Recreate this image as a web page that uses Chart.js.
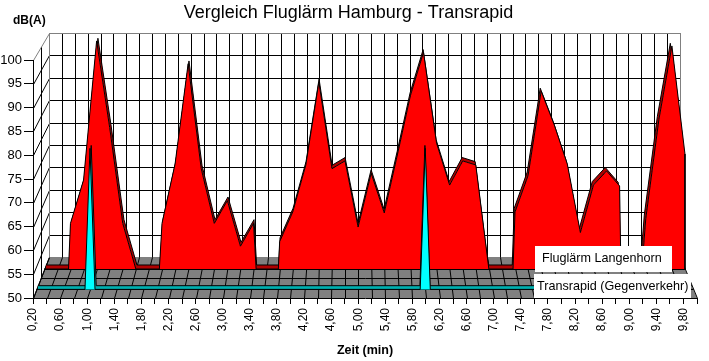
<!DOCTYPE html>
<html>
<head>
<meta charset="utf-8">
<title>Vergleich Fluglärm Hamburg - Transrapid</title>
<script src="https://cdn.jsdelivr.net/npm/chart.js@4"></script>
<style>
    body { margin: 0; background: #fff; }
    #box { width: 709px; height: 361px; }
</style>
</head>
<body>
<div id="box"><canvas id="chart"></canvas></div>
<script>
const chartTitle = 'Vergleich Fluglärm Hamburg - Transrapid';
const xTitle = 'Zeit (min)';
const yUnit = 'dB(A)';
const redLabel = 'Fluglärm Langenhorn';
const cyanLabel = 'Transrapid (Gegenverkehr)';

const xTickLabels = ['0,20', '0,60', '1,00', '1,40', '1,80', '2,20', '2,60', '3,00', '3,40', '3,80', '4,20', '4,60', '5,00',
    '5,40', '5,80', '6,20', '6,60', '7,00', '7,40', '7,80', '8,20', '8,60', '9,00', '9,40', '9,80'];

// red series (time in min, level in dB(A))
const redTimes = [0.2, 0.57, 0.6, 0.8, 1.0, 1.2, 1.4, 1.6, 1.96, 2.0, 2.2, 2.4, 2.6, 2.8, 3.0, 3.2, 3.4, 3.44, 3.78, 3.8,
    4.0, 4.2, 4.4, 4.6, 4.8, 5.0, 5.2, 5.4, 5.6, 5.8, 6.0, 6.2, 6.4, 6.6, 6.8, 7.0, 7.37, 7.4, 7.6, 7.8, 8.0, 8.2,
    8.4, 8.6, 8.8, 9.0, 9.02, 9.34, 9.4, 9.6, 9.8, 10.0, 10.0];
const redDb = [50, 50, 60, 69.5, 100, 81, 60, 50, 50, 60, 73, 95, 72, 60, 65, 55, 60, 50, 50, 56,
    62.5, 72.8, 91, 72, 73.7, 59.2, 71, 62.3, 75, 88, 97.5, 77.6, 68.4, 73.7, 72.8, 50, 50, 62.5, 70.5, 89, 81.6, 73,
    58, 68.4, 71.5, 68.2, 50, 50, 61, 82.7, 98.9, 75.2, 50];

// cyan series
const cyanTimes = [0.2, 0.925, 1.0, 1.075, 5.925, 6.0, 6.075, 10.0];
const cyanDb = [50, 50, 80, 50, 50, 80, 50, 50];

const depths = { wall: 1, redBack: 0.805, red: 0.707, cyanBack: 0.3, cyan: 0.21 };
const floorDepths = [0.22, 0.49, 0.707];
const sideDepths = [0.49];

function pairs(times, values) {
    return times.map((t, i) => ({ x: t, y: values[i] }));
}

// one hidden x/y scale pair per depth plane
const scales = {
    x: {
        type: 'linear', min: 0.2, max: 10,
        afterFit: (s) => { s.height = 63; },
        grid: { drawOnChartArea: false, tickLength: 6, color: '#000' },
        border: { color: '#000' },
        ticks: {
            stepSize: 0.2, autoSkip: false, minRotation: 90, maxRotation: 90, padding: 4, color: '#000',
            font: { size: 12 },
            callback: (v, i) => (i % 2 ? '' : xTickLabels[i / 2])
        },
        title: { display: true, text: xTitle, color: '#000', font: { size: 12.5, weight: 'bold' }, padding: { top: 0, bottom: 3 } }
    },
    y: {
        type: 'linear', min: 50, max: 100,
        afterFit: (s) => { s.width = 33; },
        grid: { drawOnChartArea: false, tickLength: 9, color: '#000' },
        border: { color: '#000' },
        ticks: { stepSize: 5, padding: 2, color: '#000', font: { size: 13 } }
    }
};
Object.keys(depths).forEach((name) => {
    scales['x_' + name] = { type: 'linear', axis: 'x', position: 'bottom', display: false, min: 0.2, max: 10 };
    scales['y_' + name] = { type: 'linear', axis: 'y', position: 'left', display: false, min: 50, max: 100 };
});

function placeScale(chart, name, d) {
    const front = { left: 33, right: 697, top: 60, bottom: 298 };
    const back = { left: 49, right: 680, top: 33, bottom: 257 };
    const mix = (k) => front[k] + (back[k] - front[k]) * d;
    const sx = chart.scales[name === '' ? 'x' : 'x_' + name];
    const sy = chart.scales[name === '' ? 'y' : 'y_' + name];
    sx.left = mix('left'); sx.right = mix('right'); sx.width = sx.right - sx.left;
    sy.top = mix('top'); sy.bottom = mix('bottom'); sy.height = sy.bottom - sy.top;
    sx.configure();
    sy.configure();
}

function line(ctx, x1, y1, x2, y2, color) {
    ctx.strokeStyle = color;
    ctx.lineWidth = 1;
    ctx.beginPath();
    ctx.moveTo(Math.round(x1) + 0.5, Math.round(y1) + 0.5);
    ctx.lineTo(Math.round(x2) + 0.5, Math.round(y2) + 0.5);
    ctx.stroke();
}

const room3d = {
    id: 'room3d',
    afterLayout(chart) {
        placeScale(chart, '', 0);
        Object.keys(depths).forEach((name) => placeScale(chart, name, depths[name]));
    },
    beforeDraw(chart) {
        const ctx = chart.ctx;
        const fx = chart.scales.x, fy = chart.scales.y;
        const bx = chart.scales.x_wall, by = chart.scales.y_wall;
        const xValues = fx.ticks.map((t) => t.value);
        const yValues = fy.ticks.map((t) => t.value);
        ctx.save();

        // floor
        ctx.fillStyle = '#808080';
        ctx.beginPath();
        ctx.moveTo(fx.left, fy.bottom);
        ctx.lineTo(fx.right, fy.bottom);
        ctx.lineTo(bx.right, by.bottom);
        ctx.lineTo(bx.left, by.bottom);
        ctx.closePath();
        ctx.fill();

        // back wall grid
        xValues.forEach((v) => {
            line(ctx, bx.getPixelForValue(v), by.top, bx.getPixelForValue(v), by.bottom, '#000');
            line(ctx, fx.getPixelForValue(v), fy.bottom, bx.getPixelForValue(v), by.bottom, '#000');
        });
        yValues.forEach((v) => {
            if (v > 50 && v < 100) {
                line(ctx, bx.left, by.getPixelForValue(v), bx.right, by.getPixelForValue(v), '#000');
            }
            line(ctx, fx.left, fy.getPixelForValue(v), bx.left, by.getPixelForValue(v), v === 100 ? '#808080' : '#000');
        });

        // floor rows
        floorDepths.forEach((d) => {
            const y = fy.bottom + (by.bottom - fy.bottom) * d;
            line(ctx, fx.left + (bx.left - fx.left) * d, y, fx.right + (bx.right - fx.right) * d, y, '#000');
        });

        // side wall post
        sideDepths.forEach((d) => {
            const x = fx.left + (bx.left - fx.left) * d;
            line(ctx, x, fy.top + (by.top - fy.top) * d, x, fy.bottom + (by.bottom - fy.bottom) * d, '#000');
        });

        // wall edges
        line(ctx, bx.left, by.top, bx.right, by.top, '#808080');
        line(ctx, bx.left, by.top, bx.left, by.bottom, '#808080');
        line(ctx, bx.right, by.top, bx.right, by.bottom, '#808080');
        ctx.restore();
    },
    afterDatasetsDraw(chart) {
        const ctx = chart.ctx;
        ctx.save();
        ctx.fillStyle = '#fff';
        ctx.fillRect(535, 246, 137, 26);
        ctx.fillRect(534, 274, 157, 24);
        ctx.fillStyle = '#000';
        ctx.textBaseline = 'middle';
        ctx.textAlign = 'left';
        ctx.font = '12.6px "Liberation Sans"';
        ctx.fillText(redLabel, 542, 259);
        ctx.fillText(cyanLabel, 537, 287);
        ctx.font = 'bold 12px "Liberation Sans"';
        ctx.fillText(yUnit, 13, 21);
        ctx.restore();
    }
};

Chart.defaults.font.family = '"Liberation Sans", Arial, sans-serif';

new Chart(document.getElementById('chart'), {
    type: 'line',
    plugins: [room3d],
    data: {
        datasets: [
            {
                label: cyanLabel, data: pairs(cyanTimes, cyanDb), xAxisID: 'x_cyan', yAxisID: 'y_cyan',
                borderColor: '#000', borderWidth: 1, backgroundColor: '#00ffff', fill: 'start', pointRadius: 0, clip: false
            },
            {
                label: cyanLabel + ' back', data: pairs(cyanTimes, cyanDb), xAxisID: 'x_cyanBack', yAxisID: 'y_cyanBack',
                borderColor: '#000', borderWidth: 1, backgroundColor: '#00b0b0', fill: '-1', pointRadius: 0, clip: false
            },
            {
                label: redLabel, data: pairs(redTimes, redDb), xAxisID: 'x_red', yAxisID: 'y_red',
                borderColor: '#000', borderWidth: 1, backgroundColor: '#ff0000', fill: 'start', pointRadius: 0, clip: false
            },
            {
                label: redLabel + ' back', data: pairs(redTimes, redDb), xAxisID: 'x_redBack', yAxisID: 'y_redBack',
                borderColor: '#000', borderWidth: 1, backgroundColor: '#b00000', fill: '-1', pointRadius: 0, clip: false
            }
        ]
    },
    options: {
        responsive: true,
        maintainAspectRatio: false,
        animation: false,
        layout: { padding: { right: 12 } },
        plugins: {
            legend: { display: false },
            tooltip: { enabled: false },
            title: {
                display: true, text: chartTitle, color: '#000',
                font: { size: 18, weight: 'normal' }, padding: { top: 2, bottom: 9.4 }
            }
        },
        scales: scales
    }
});
</script>
</body>
</html>
